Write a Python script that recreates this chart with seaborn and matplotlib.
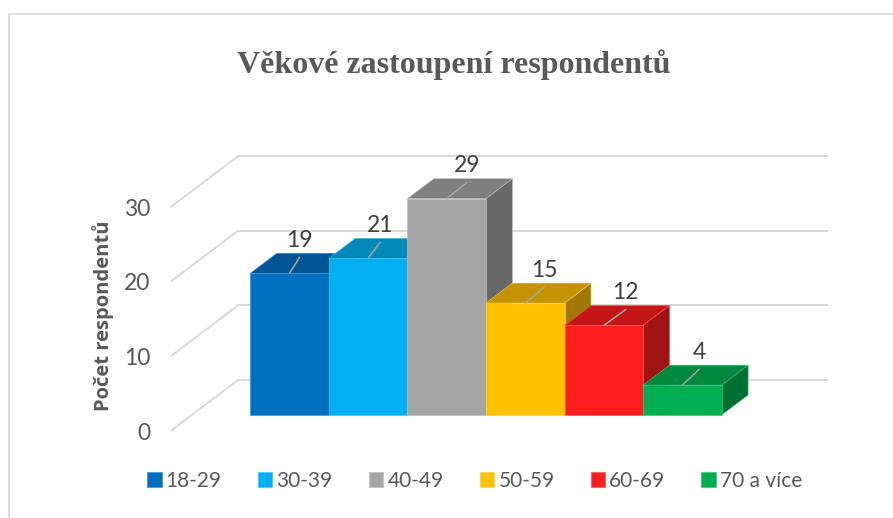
import matplotlib
matplotlib.use("Agg")
import matplotlib.pyplot as plt
from matplotlib.colors import to_rgb
from matplotlib.lines import Line2D
from matplotlib.patches import Polygon
import pandas as pd
import seaborn as sns

# Data
skupiny = ["18-29", "30-39", "40-49", "50-59", "60-69", "70 a více"]
pocty = [19, 21, 29, 15, 12, 4]
cores = ["#0070C0", "#00B0F0", "#A5A5A5", "#FFC000", "#FF1C1C", "#00B050"]
y_ticks = [0, 10, 20, 30]

W, H = 893, 518
PX_X = 78.55   # pixels per bar
PX_Y = 7.46    # pixels per respondent

sns.set_theme(style="white")
plt.rcParams["font.family"] = ["Lato", "DejaVu Sans"]

fig = plt.figure(figsize=(W / 100, H / 100), dpi=100)
left, right, top, bottom = 170.5, 828, 100, 440
ax = fig.add_axes([left / W, 1 - bottom / H, (right - left) / W, (bottom - top) / H])

df = pd.DataFrame({"skupina": skupiny, "pocet": pocty})
sns.barplot(data=df, x="skupina", y="pocet", hue="skupina", palette=cores,
            width=1, dodge=False, saturation=1, legend=False, ax=ax)
bars = list(ax.patches)[:len(pocty)]

x0 = -0.5 - (250.3 - left) / PX_X
x1 = -0.5 + (right - 250.3) / PX_X
ax.set_xlim(x0, x1)
ax.set_ylim(-(bottom - 415) / PX_Y, (415 - top) / PX_Y)

# Depth of the fake 3D box
dx, dy = 26.5 / PX_X, 20 / PX_Y
# Wall and floor grid
front_y, back_y = -16 / PX_Y, 35 / PX_Y
wall_x = x0 + 67.5 / PX_X
for v in y_ticks:
    ax.plot([x0, wall_x], [v + front_y, v + back_y], color="#D9D9D9", lw=1.4, zorder=1)
    ax.plot([wall_x, x1], [v + back_y, v + back_y], color="#D9D9D9", lw=1.4, zorder=1)

# Top and side faces come from the bars seaborn has drawn
label_dx = [10, 12, 20, 19, 22, 17]
for i, bar in enumerate(bars):
    xa, xb = bar.get_x(), bar.get_x() + bar.get_width()
    h = bar.get_height()
    base = to_rgb(cores[i])
    tone_top = tuple(c * 0.77 for c in base)
    tone_side = tuple(c * 0.63 for c in base)
    edge = tuple(c + (1 - c) * 0.25 for c in base)
    z = 3 + i * 2
    ax.add_patch(Polygon([(xa, h), (xa + dx, h + dy), (xb + dx, h + dy), (xb, h)],
                         fc=tone_top, ec=edge, lw=0.4, zorder=z))
    ax.add_patch(Polygon([(xb, 0), (xb + dx, dy), (xb + dx, h + dy), (xb, h)],
                         fc=tone_side, ec=edge, lw=0.4, zorder=z))
    bar.set_edgecolor(edge)
    bar.set_linewidth(0.5)
    bar.set_zorder(z + 1)
    # Leader line and value label
    xc = (xa + xb) / 2
    xl = xc + label_dx[i] / PX_X
    ax.plot([xc, xl], [h, h + 16 / PX_Y], color="#A6A6A6", lw=1.1, zorder=z + 1.5)
    ax.text(xl, h + 33 / PX_Y, str(pocty[i]), ha="center", va="center",
            fontsize=16.5, color="#404040", zorder=20)

sns.despine(ax=ax, left=True, bottom=True, top=True, right=True)
ax.patch.set_alpha(0)
ax.set_xticks([])
ax.set_xlabel("")
ax.set_yticks([v + front_y for v in y_ticks], labels=[str(v) for v in y_ticks])
ax.tick_params(axis="y", length=0, pad=14.5, labelsize=16.5, labelcolor="#595959")
ax.set_ylabel("Počet respondentů", fontsize=14.5, fontweight="bold", color="#595959",
              family="Open Sans")
ax.yaxis.set_label_coords((114 - left) / (right - left), (bottom - 316) / (bottom - top))

ax.legend(bars, skupiny, loc="center left", bbox_to_anchor=(147 / W, 1 - 481 / H),
          bbox_transform=fig.transFigure, ncol=6, frameon=False,
          fontsize=15, labelcolor="#595959", handlelength=0.7, handleheight=0.7,
          handletextpad=0.2, columnspacing=1.73, borderpad=0, borderaxespad=0)

fig.text(453.5 / W, 1 - 65 / H, "Věkové zastoupení respondentů", ha="center", va="center",
         fontsize=23, fontweight="bold", color="#595959", family="Liberation Serif")

# Chart frame, cut by the picture edge
fig.add_artist(Line2D([8.5 / W, 8.5 / W, 1], [0, 1 - 14 / H, 1 - 14 / H],
                      color="#D9D9D9", lw=1.2))

fig.savefig("out.png", dpi=100)
